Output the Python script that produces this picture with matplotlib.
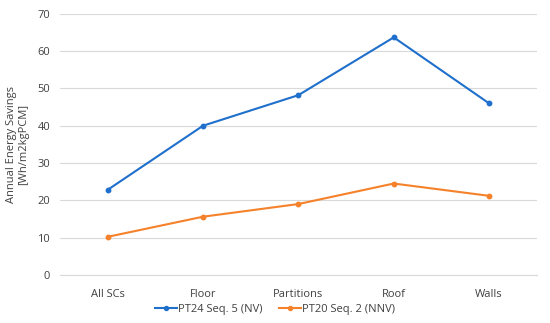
import matplotlib.pyplot as plt

categories = ['All SCs', 'Floor', 'Partitions', 'Roof', 'Walls']
pt24 = [22.8, 40.0, 48.2, 63.7, 46.0]
pt20 = [10.2, 15.6, 19.0, 24.5, 21.2]
yticks = [0, 10, 20, 30, 40, 50, 60, 70]

plt.rcParams['font.family'] = ['Open Sans', 'DejaVu Sans']

fig = plt.figure(figsize=(5.5, 3.23), dpi=100)
ax = fig.add_axes([0.109, 0.149, 0.867, 0.808])

x = range(len(categories))
ax.plot(x, pt24, color='#1f6fcc', lw=1.5, marker='o', ms=3.2, label='PT24 Seq. 5 (NV)')
ax.plot(x, pt20, color='#f5822a', lw=1.5, marker='o', ms=3.2, label='PT20 Seq. 2 (NNV)')

ax.set_xlim(-0.5, len(categories) - 0.5)
ax.set_ylim(0, 70)
ax.set_yticks(yticks)
ax.set_xticks(list(x))
ax.set_xticklabels(categories)
ax.grid(axis='y', color='#d9d9d9', lw=0.8)
ax.set_axisbelow(True)
for s in ['top', 'right', 'left']:
    ax.spines[s].set_visible(False)
ax.spines['bottom'].set_color('#d9d9d9')
ax.tick_params(length=0, labelsize=8, colors='#404040', pad=7)
ax.tick_params(axis='x', pad=10)

ax.set_ylabel('Annual Energy Savings\n[Wh/m2kgPCM]', fontsize=8, color='#404040', labelpad=6)

fig.legend(loc='lower center', bbox_to_anchor=(0.5, -0.005), ncol=2, frameon=False,
           fontsize=8, labelcolor='#404040', handlelength=2.0, handletextpad=0.1,
           columnspacing=1.5, markerscale=0.9)

fig.savefig('out.png', dpi=100)
